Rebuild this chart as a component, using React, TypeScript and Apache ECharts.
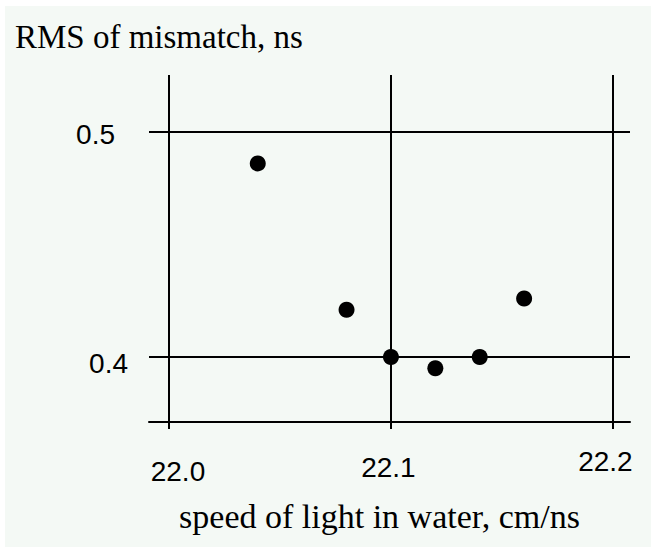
import React, { useEffect, useRef } from "react";
import * as echarts from "echarts";

const speeds = [22.04, 22.08, 22.1, 22.12, 22.14, 22.16];
const rms = [0.486, 0.421, 0.4, 0.395, 0.4, 0.426];
const xTicks = [22.0, 22.1, 22.2];
const yTicks = [0.4, 0.5];
const xTickLabels = ["22.0", "22.1", "22.2"];
const yTickLabels = ["0.4", "0.5"];

export default function App() {
  const ref = useRef<HTMLDivElement>(null);
  useEffect(() => {
    if (!ref.current) return;
    const chart = echarts.init(ref.current, null, { renderer: "svg" });
    const labelFont = "'Liberation Sans', 'DejaVu Sans', sans-serif";
    const serif = "'Liberation Serif', 'DejaVu Serif', serif";
    chart.setOption({
      animation: false,
      backgroundColor: "#ffffff",
      graphic: [
        {
          type: "rect",
          z: -10,
          silent: true,
          shape: { x: 5, y: 6, width: 651, height: 547 },
          style: { fill: "#f4f9f5" },
        },
      ],
      title: {
        text: "RMS of mismatch, ns",
        left: 10,
        top: 15,
        textStyle: { fontFamily: serif, fontSize: 33, fontWeight: "normal", color: "#000" },
      },
      grid: { left: 149, right: 21, top: 75, bottom: 125 },
      xAxis: {
        type: "value",
        min: 21.991,
        max: 22.2077,
        name: "speed of light in water, cm/ns",
        nameLocation: "middle",
        nameGap: 77,
        nameTextStyle: { fontFamily: serif, fontSize: 34, color: "#000", padding: [0, 20, 0, 0] },
        splitLine: { show: false },
        axisLine: { show: true, onZero: false, lineStyle: { color: "#000", width: 2 } },
        axisTick: {
          show: true,
          customValues: xTicks,
          length: 7,
          lineStyle: { color: "#000", width: 2 },
        },
        axisLabel: {
          customValues: xTicks,
          margin: 25,
          fontFamily: labelFont,
          fontSize: 28,
          color: "#000",
          formatter: (v: number) => {
            const i = xTicks.findIndex((t) => Math.abs(t - v) < 1e-6);
            const key = ["a", "b", "c"][i] || "b";
            return `{${key}|${xTickLabels[i] ?? v}}`;
          },
          rich: {
            a: { fontFamily: labelFont, fontSize: 28, color: "#000", padding: [10, 0, 0, 18] },
            b: { fontFamily: labelFont, fontSize: 28, color: "#000", padding: [6, 5, 0, 0] },
            c: { fontFamily: labelFont, fontSize: 28, color: "#000", padding: [0, 15, 0, 0] },
          },
        },
      },
      yAxis: {
        type: "value",
        min: 0.3711,
        max: 0.5253,
        splitLine: { show: false },
        axisLine: { show: false },
        axisTick: { show: false },
        axisLabel: {
          customValues: yTicks,
          margin: 21,
          fontFamily: labelFont,
          fontSize: 28,
          color: "#000",
          formatter: (v: number) => {
            const i = yTicks.findIndex((t) => Math.abs(t - v) < 1e-6);
            const key = i === 0 ? "p" : "q";
            return `{${key}|${yTickLabels[i] ?? v}}`;
          },
          rich: {
            p: { fontFamily: labelFont, fontSize: 28, color: "#000", padding: [13, 0, 0, 0] },
            q: { fontFamily: labelFont, fontSize: 28, color: "#000", padding: [6, 13, 0, 0] },
          },
        },
      },
      series: [
        {
          type: "scatter",
          data: speeds.map((s, i) => [s, rms[i]]),
          symbol: "circle",
          symbolSize: 16,
          itemStyle: { color: "#000", opacity: 1 },
          z: 5,
          markLine: {
            silent: true,
            symbol: "none",
            label: { show: false },
            lineStyle: { color: "#000", width: 2, type: "solid", opacity: 1 },
            data: [
              ...xTicks.map((x) => ({ xAxis: x })),
              ...yTicks.map((y) => ({ yAxis: y })),
            ],
          },
        },
      ],
    });
    return () => chart.dispose();
  }, []);
  return (
    <div style={{ position: "fixed", left: 0, top: 0, width: 651, height: 547 }}>
      <div ref={ref} style={{ width: 651, height: 547 }} />
    </div>
  );
}
